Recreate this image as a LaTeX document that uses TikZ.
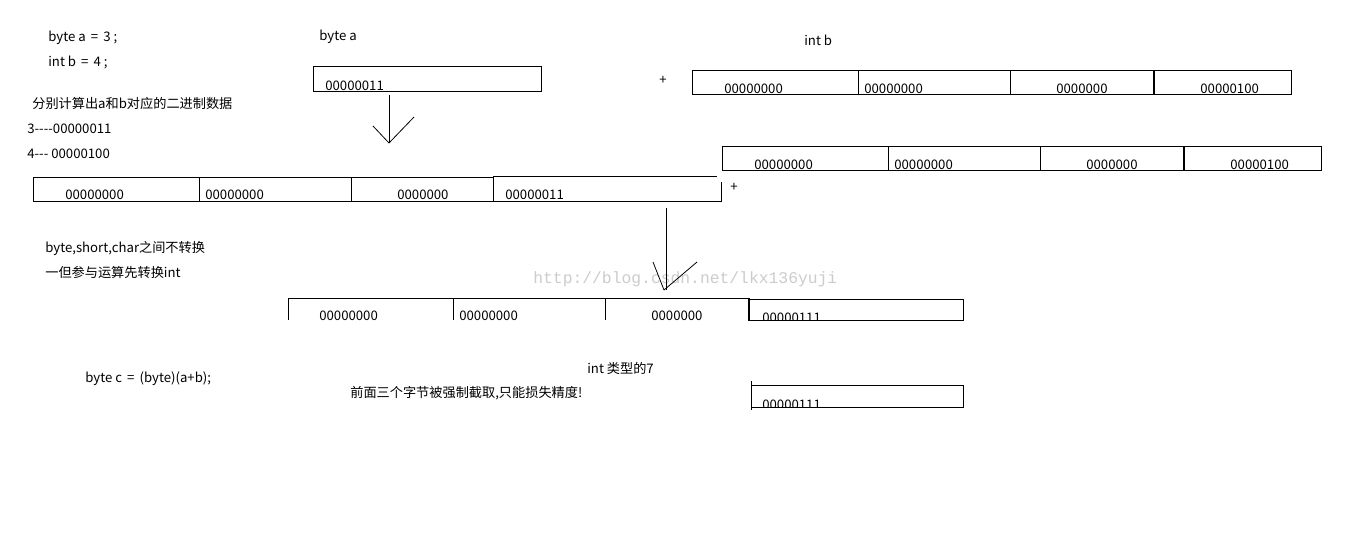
\documentclass[tikz,border=0pt]{standalone}
\usepackage{fontspec}
\setmainfont{Noto Sans CJK SC}[Ligatures=TeXOff]
\newfontfamily\wmfont{Liberation Mono}

\tikzset{
  txt/.style={anchor=base west,inner sep=0pt,font=\fontsize{7.5}{9}\selectfont},
  frame/.style={draw=black,line width=0.55pt},
  heavy/.style={draw=black,line width=1.1pt},
  wmtext/.style={anchor=base west,inner sep=0pt,text=black!20,font=\wmfont\fontsize{9.3}{11}\selectfont},
}

\begin{document}
\begin{tikzpicture}[x=0.02cm,y=-0.02cm]
  \useasboundingbox[fill=white] (0,0) rectangle (1354,535);

  % declarations and binary values
  \node[txt] (decla) at (48,41) {byte a \,=\, 3 ;};
  \node[txt] (declb) at (48,66) {int b \,=\, 4 ;};
  \node[txt] (calc) at (32,108) {分别计算出a和b对应的二进制数据};
  \node[txt] (bin3) at (27,133) {3----00000011};
  \node[txt] (bin4) at (27,158) {4--- 00000100};

  % byte a
  \node[txt] (labela) at (319,40) {byte a};
  \draw[frame] (313,66) rectangle (541,91);
  \node[txt] (bytea) at (325,90) {00000011};

  % int b
  \node[txt] (labelb) at (804,45) {int b};
  \node[txt] (plusb) at (659,84) {+};
  \draw[frame] (692,70) rectangle (1291,94);
  \draw[frame] (858,70) -- (858,94) (1010,70) -- (1010,94);
  \draw[heavy] (1154,70) -- (1154,94);
  \node[txt] (b1) at (724,93) {00000000};
  \node[txt] (b2) at (864,93) {00000000};
  \node[txt] (b3) at (1056,93) {0000000};
  \node[txt] (b4) at (1200,93) {00000100};

  % arrow a -> int
  \coordinate (atail) at (389,95);
  \coordinate (ahead) at (389,143);
  \coordinate (aleft) at (373,126);
  \coordinate (aright) at (414,117);
  \draw[frame] (atail) -- (ahead);
  \draw[line width=0.45pt] (aleft) -- (ahead) (aright) -- (ahead);

  % a widened to int
  \draw[frame] (33,201) -- (33,177) -- (493,177);
  \draw[frame] (199,177) -- (199,201) (351,177) -- (351,201);
  \draw[frame] (493,201) -- (493,176) -- (717,176);
  \draw[frame] (721,182) -- (721,201) -- (33,201);
  \node[txt] (w1) at (65,199) {00000000};
  \node[txt] (w2) at (205,199) {00000000};
  \node[txt] (w3) at (397,199) {0000000};
  \node[txt] (w4) at (505,199) {00000011};
  \node[txt] (plusw) at (730,191) {+};

  % int b again
  \draw[frame] (722,146) rectangle (1321,170);
  \draw[frame] (888,146) -- (888,170) (1040,146) -- (1040,170);
  \draw[heavy] (1184,146) -- (1184,170);
  \node[txt] (c1) at (754,169) {00000000};
  \node[txt] (c2) at (894,169) {00000000};
  \node[txt] (c3) at (1086,169) {0000000};
  \node[txt] (c4) at (1230,169) {00000100};

  % notes
  \node[txt] (note1) at (45,252) {byte,short,char之间不转换};
  \node[txt] (note2) at (45,277) {一但参与运算先转换int};
  \node[wmtext] (wm) at (533,283) {http://blog.csdn.net/lkx136yuji};

  % arrow sum -> result
  \coordinate (stail) at (666,208);
  \coordinate (shead) at (664,290);
  \coordinate (sleft) at (653,262);
  \coordinate (sright) at (697,262);
  \draw[frame] (stail) -- (666,290);
  \draw[line width=0.45pt] (sleft) -- (shead) (sright) -- (shead);

  % result a+b
  \draw[frame] (288,320) -- (288,298) -- (750,298);
  \draw[frame] (453,298) -- (453,320) (605,298) -- (605,320);
  \draw[frame] (749,299) -- (963,299) -- (963,320) -- (749,320);
  \node[txt] (r1) at (319,320) {00000000};
  \node[txt] (r2) at (459,320) {00000000};
  \node[txt] (r3) at (651,320) {0000000};
  \node[txt] (r4) at (762,322) {00000111};
  \fill[white] (750,320.3) rectangle (962.5,326);
  \draw[frame] (749,320) -- (963,320);
  \draw[heavy] (749,298) -- (749,321);

  % cast to byte
  \node[txt] (int7) at (587,373) {int 类型的7};
  \node[txt] (castc) at (85,382) {byte c \,=\, (byte)(a+b);};
  \node[txt] (cut) at (350,397) {前面三个字节被强制截取,只能损失精度!};
  \node[txt] (bytec) at (762,409) {00000111};
  \fill[white] (752,407.3) rectangle (962.5,414);
  \draw[frame] (751,385) -- (963,385) -- (963,407) -- (751,407);
  \draw[frame] (751,381) -- (751,410);
\end{tikzpicture}
\end{document}
